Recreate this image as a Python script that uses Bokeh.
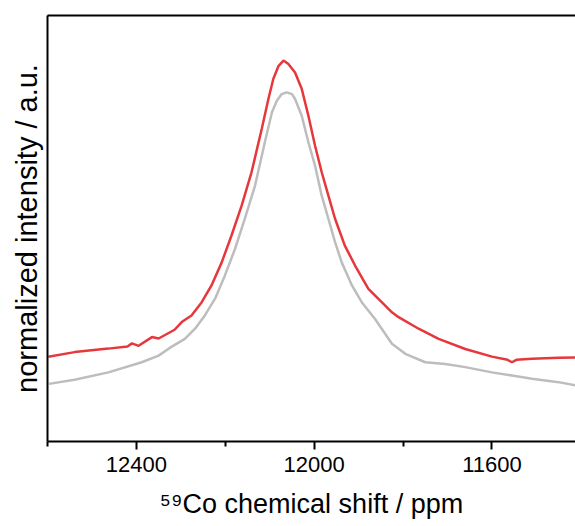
from bokeh.plotting import figure
from bokeh.models import Range1d, FixedTicker, LinearAxis
from bokeh.embed import file_html
from bokeh.resources import INLINE

# 59Co chemical shift (ppm) and normalized intensity
red_ppm = [12598, 12539, 12463, 12420, 12410, 12395, 12365, 12350, 12314, 12298,
           12276, 12253, 12231, 12208, 12186, 12163, 12141, 12118, 12103, 12092,
           12080, 12069, 12058, 12043, 12028, 12013, 11998, 11983, 11968, 11953,
           11931, 11908, 11878, 11848, 11825, 11810, 11765, 11720, 11660, 11600,
           11565, 11555, 11545, 11510, 11450, 11409]
red_int = [0.243, 0.256, 0.266, 0.272, 0.281, 0.274, 0.299, 0.295, 0.320, 0.342,
           0.361, 0.399, 0.447, 0.513, 0.590, 0.676, 0.771, 0.895, 0.981, 1.038,
           1.076, 1.091, 1.081, 1.057, 1.010, 0.933, 0.847, 0.771, 0.704, 0.638,
           0.561, 0.504, 0.437, 0.399, 0.370, 0.356, 0.323, 0.294, 0.265, 0.243,
           0.234, 0.227, 0.234, 0.237, 0.240, 0.241]

gray_ppm = [12597, 12539, 12463, 12388, 12350, 12325, 12291, 12268, 12246, 12223,
            12201, 12178, 12156, 12133, 12111, 12095, 12084, 12073, 12062, 12050,
            12043, 12028, 12013, 11998, 11983, 11968, 11953, 11938, 11915, 11893,
            11863, 11840, 11825, 11795, 11750, 11705, 11660, 11600, 11555, 11510,
            11450, 11409]
gray_int = [0.165, 0.177, 0.198, 0.227, 0.246, 0.268, 0.294, 0.323, 0.361, 0.409,
            0.475, 0.552, 0.638, 0.733, 0.857, 0.943, 0.976, 0.995, 1.000, 0.995,
            0.981, 0.933, 0.857, 0.790, 0.704, 0.638, 0.571, 0.513, 0.447, 0.399,
            0.351, 0.308, 0.280, 0.251, 0.227, 0.222, 0.213, 0.198, 0.189, 0.180,
            0.170, 0.160]

major_ticks = [12400, 12000, 11600]
minor_ticks = [12600, 12200, 11800]

FONT = "Liberation Sans"

p = figure(width=575, height=526, output_backend="svg", toolbar_location=None,
           x_range=Range1d(12600, 11412), y_range=Range1d(0, 1.22),
           min_border_left=47, min_border_right=0, min_border_top=15,
           min_border_bottom=85, background_fill_color="white",
           border_fill_color="white")
p.outline_line_color = None
p.xgrid.visible = False
p.ygrid.visible = False

p.line(gray_ppm, gray_int, line_color="#bdbdbd", line_width=2.5)
p.line(red_ppm, red_int, line_color="#e6383c", line_width=2.5)

xa = p.xaxis[0]
xa.ticker = FixedTicker(ticks=major_ticks, minor_ticks=minor_ticks)
xa.axis_line_width = 2
xa.axis_line_color = "black"
xa.major_tick_line_width = 2
xa.minor_tick_line_width = 2
xa.major_tick_out = 8
xa.major_tick_in = 0
xa.minor_tick_out = 5
xa.minor_tick_in = 0
xa.major_label_text_font = FONT
xa.major_label_text_font_size = "22px"
xa.major_label_text_color = "black"
xa.major_label_standoff = 7
xa.axis_label = "\u2075\u2079Co chemical shift / ppm"
xa.axis_label_text_font = FONT
xa.axis_label_text_font_size = "27px"
xa.axis_label_text_font_style = "normal"
xa.axis_label_text_color = "black"
xa.axis_label_standoff = 14

ya = p.yaxis[0]
ya.ticker = FixedTicker(ticks=[])
ya.axis_line_width = 2
ya.axis_line_color = "black"
ya.major_tick_line_color = None
ya.minor_tick_line_color = None
ya.major_label_text_font_size = "0px"
ya.axis_label = "normalized intensity / a.u."
ya.axis_label_text_font = FONT
ya.axis_label_text_font_size = "29px"
ya.axis_label_text_font_style = "normal"
ya.axis_label_text_color = "black"
ya.axis_label_standoff = 5

top = LinearAxis(ticker=FixedTicker(ticks=[]), axis_line_width=2,
                 major_tick_line_color=None, minor_tick_line_color=None,
                 major_label_text_font_size="0px")
p.add_layout(top, "above")

open("out.html", "w").write(file_html(p, INLINE))
